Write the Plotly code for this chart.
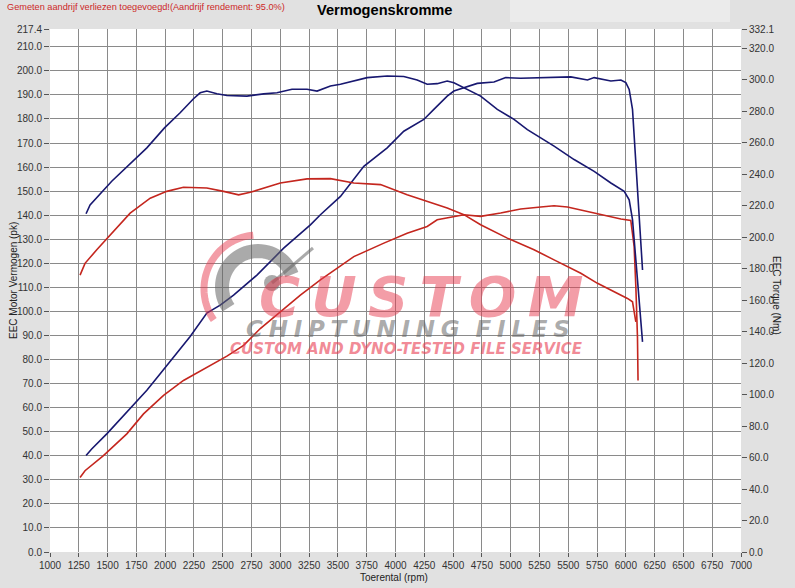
import plotly.graph_objects as go
import numpy as np

# ---------------- data ----------------
rpm_blue_power = [1313, 1362, 1493, 1696, 1841, 1957, 2101, 2217, 2362, 2478, 2594, 2797,
                  3029, 3261, 3348, 3435, 3522, 3725, 3928, 4072, 4246, 4333, 4449, 4507,
                  4623, 4710, 4855, 4957, 5087, 5232, 5377, 5522, 5667, 5725, 5870, 5957,
                  6000, 6029, 6058, 6087, 6116, 6145]
blue_power = [40.1, 42.8, 49.1, 59.5, 67.2, 74.1, 82.5, 89.6, 99.3, 102.6, 106.8, 115.1,
              126.3, 136.0, 140.2, 144.0, 147.8, 160.3, 168.0, 174.9, 179.8, 184.0, 189.5, 191.6,
              193.4, 194.8, 195.4, 197.2, 196.9, 197.2, 197.2, 197.5, 196.2, 197.2, 195.8, 196.2,
              195.1, 192.3, 184.0, 163.1, 142.3, 117.2]

rpm_blue_torque = [1313, 1348, 1536, 1667, 1841, 1994, 2130, 2246, 2304, 2362, 2449, 2536,
                   2710, 2855, 2971, 3101, 3232, 3319, 3435, 3522, 3754, 3928, 4072, 4188,
                   4275, 4362, 4449, 4507, 4594, 4739, 4884, 5029, 5145, 5261, 5377, 5551,
                   5725, 5870, 5986, 6029, 6058, 6087, 6116, 6145]
blue_torque = [214.8, 220.4, 235.4, 244.6, 256.6, 269.3, 278.9, 287.8, 291.6, 292.7, 291.0, 289.9,
               289.5, 290.9, 291.6, 293.8, 293.8, 292.7, 295.9, 297.0, 301.2, 302.3, 301.9, 299.7,
               297.0, 297.4, 299.1, 298.0, 294.8, 289.5, 281.1, 274.7, 268.2, 263.1, 257.7, 249.2,
               241.7, 234.3, 229.0, 223.6, 211.0, 185.5, 159.9, 133.4]

rpm_red_power = [1261, 1304, 1464, 1667, 1812, 1986, 2159, 2362, 2536, 2681, 2826, 3000,
                 3174, 3348, 3638, 3899, 4101, 4275, 4362, 4594, 4739, 4913, 5087, 5261,
                 5377, 5493, 5667, 5841, 5957, 6043, 6072, 6087, 6101, 6106]
red_power = [31.0, 33.8, 40.1, 49.1, 57.4, 65.1, 71.3, 76.9, 81.4, 85.9, 92.9, 99.8,
             106.8, 113.1, 122.8, 128.4, 132.5, 135.3, 138.1, 140.2, 139.5, 140.9, 142.6, 143.4,
             143.9, 143.4, 141.6, 139.5, 138.4, 137.8, 127.0, 110.3, 89.4, 71.3]

rpm_red_torque = [1261, 1304, 1406, 1551, 1696, 1870, 2014, 2159, 2362, 2507, 2638, 2739,
                  2855, 3000, 3232, 3435, 3638, 3870, 4101, 4275, 4449, 4594, 4739, 4971,
                  5203, 5377, 5609, 5754, 5870, 6014, 6058, 6072, 6087]
red_torque = [175.8, 183.3, 191.9, 203.5, 215.2, 224.7, 229.0, 231.6, 231.1, 229.0, 226.8, 228.4,
              231.1, 234.3, 236.9, 237.1, 234.3, 233.3, 226.8, 222.6, 218.4, 214.2, 207.8, 199.3,
              191.9, 185.5, 177.0, 170.6, 166.4, 161.0, 158.9, 151.5, 146.2]

x_ticks = [1000, 1250, 1500, 1750, 2000, 2250, 2500, 2750, 3000, 3250, 3500, 3750, 4000,
           4250, 4500, 4750, 5000, 5250, 5500, 5750, 6000, 6250, 6500, 6750, 7000]
power_ticks = [0, 10, 20, 30, 40, 50, 60, 70, 80, 90, 100, 110, 120, 130, 140, 150, 160,
               170, 180, 190, 200, 210, 217.4]
torque_ticks = [0, 20, 40, 60, 80, 100, 120, 140, 160, 180, 200, 220, 240, 260, 280, 300,
                320, 332.1]

title_text = "Vermogenskromme"
note_text = "Gemeten aandrijf verliezen toegevoegd!(Aandrijf rendement: 95.0%)"
x_title = "Toerental (rpm)"
y_title = "EEC Motor Vermogen (pk)"
y2_title = "EEC Torque (Nm)"

# ---------------- figure ----------------
W, H = 795, 588
ML, MR, MT, MB = 50, 54, 29, 36
PW, PH = W - ML - MR, H - MT - MB

def px(x):
    return (x - ML) / PW

def py(y):
    return (H - MB - y) / PH

BLUE = "rgb(24,24,112)"
RED = "rgb(196,38,30)"
FONT = "Liberation Sans, Arial, sans-serif"

fig = go.Figure()
fig.add_trace(go.Scatter(x=rpm_red_power, y=red_power, mode="lines",
                         line=dict(color=RED, width=1.6), yaxis="y", hoverinfo="skip"))
fig.add_trace(go.Scatter(x=rpm_red_torque, y=red_torque, mode="lines",
                         line=dict(color=RED, width=1.6), yaxis="y2", hoverinfo="skip"))
fig.add_trace(go.Scatter(x=rpm_blue_power, y=blue_power, mode="lines",
                         line=dict(color=BLUE, width=1.6), yaxis="y", hoverinfo="skip"))
fig.add_trace(go.Scatter(x=rpm_blue_torque, y=blue_torque, mode="lines",
                         line=dict(color=BLUE, width=1.6), yaxis="y2", hoverinfo="skip"))

GRID = "#8a8a8a"
TICKF = dict(family=FONT, size=10, color="#333333")

fig.update_layout(
    width=W, height=H,
    margin=dict(l=ML, r=MR, t=MT, b=MB, autoexpand=False),
    paper_bgcolor="#e1e1e1",
    plot_bgcolor="white",
    showlegend=False,
    xaxis=dict(range=[1000, 7000], tickvals=x_ticks, ticktext=[str(v) for v in x_ticks],
               showgrid=True, gridcolor=GRID, gridwidth=1, zeroline=False,
               ticks="outside", ticklen=4, tickcolor="#555", tickfont=TICKF,
               showline=False, automargin=False),
    yaxis=dict(range=[0, 217.4], tickvals=power_ticks,
               ticktext=[f"{v:.1f}" for v in power_ticks],
               showgrid=True, gridcolor=GRID, gridwidth=1, zeroline=False,
               ticks="outside", ticklen=5, tickcolor="#555", tickfont=TICKF, automargin=False),
    yaxis2=dict(range=[0, 332.1], tickvals=torque_ticks,
                ticktext=[f"{v:.1f}" for v in torque_ticks],
                overlaying="y", side="right", showgrid=False, zeroline=False,
                ticks="outside", ticklen=5, tickcolor="#555", tickfont=TICKF, automargin=False),
)

ann = []
ann.append(dict(text=note_text, xref="paper", yref="paper", x=px(5), y=py(7),
                xanchor="left", yanchor="middle", showarrow=False,
                font=dict(family=FONT, size=9.2, color="rgb(205,40,40)")))
ann.append(dict(text="<b>" + title_text + "</b>", xref="paper", yref="paper", x=px(384), y=py(10),
                xanchor="center", yanchor="middle", showarrow=False,
                font=dict(family=FONT, size=14.6, color="black")))
ann.append(dict(text=x_title, xref="paper", yref="paper", x=px(394), y=py(577),
                xanchor="center", yanchor="middle", showarrow=False,
                font=dict(family=FONT, size=10, color="#222")))
ann.append(dict(text=y_title, xref="paper", yref="paper", x=px(13), y=py(281),
                xanchor="center", yanchor="middle", showarrow=False, textangle=-90,
                font=dict(family=FONT, size=10, color="#222")))
ann.append(dict(text=y2_title, xref="paper", yref="paper", x=px(776), y=py(295),
                xanchor="center", yanchor="middle", showarrow=False, textangle=90,
                font=dict(family=FONT, size=10, color="#222")))

# watermark
PINK = "rgba(232,60,80,0.5)"
GREYW = "rgba(100,100,100,0.55)"
WM = "DejaVu Sans, sans-serif"
TS = "\u2009"
QS = "\u2005"
ann.append(dict(text="<b><i>" + TS.join("CUSTOM") + "</i></b>", xref="paper", yref="paper",
                x=px(421), y=py(296), xanchor="center", yanchor="middle", showarrow=False,
                font=dict(family=WM, size=56, color=PINK)))
ann.append(dict(text="<b><i>" + QS.join("CHIPTUNING") + "  " + QS.join("FILES") + "</i></b>",
                xref="paper", yref="paper",
                x=px(408), y=py(329), xanchor="center", yanchor="middle", showarrow=False,
                font=dict(family=WM, size=23, color=GREYW)))
ann.append(dict(text="<b><i>CUSTOM AND DYNO-TESTED FILE SERVICE</i></b>", xref="paper", yref="paper",
                x=px(406), y=py(349), xanchor="center", yanchor="middle", showarrow=False,
                font=dict(family=WM, size=15, color="rgba(232,60,80,0.6)")))
fig.update_layout(annotations=ann)

def arc_path(cx, cy, r, a0, a1, n=40):
    t = np.radians(np.linspace(a0, a1, n))
    xs = cx + r * np.cos(t)
    ys = cy - r * np.sin(t)
    pts = [f"{px(x):.5f},{py(y):.5f}" for x, y in zip(xs, ys)]
    return "M " + " L ".join(pts)

shapes = []
# lighter box top right
shapes.append(dict(type="rect", xref="paper", yref="paper", x0=px(510), x1=px(730),
                   y0=py(0), y1=py(22), fillcolor="#ebebeb", line=dict(width=0), layer="below"))
# gauge
shapes.append(dict(type="path", xref="paper", yref="paper", path=arc_path(258, 289, 54, 95, 215),
                   line=dict(color=PINK, width=7), layer="above"))
shapes.append(dict(type="path", xref="paper", yref="paper", path=arc_path(258, 287, 36, 20, 215),
                   line=dict(color=GREYW, width=14), layer="above"))
shapes.append(dict(type="line", xref="paper", yref="paper", x0=px(272), y0=py(283),
                   x1=px(313), y1=py(248), line=dict(color=GREYW, width=3), layer="above"))
shapes.append(dict(type="circle", xref="paper", yref="paper", x0=px(264), x1=px(280),
                   y0=py(275), y1=py(291), fillcolor=GREYW, line=dict(width=0), layer="above"))
fig.update_layout(shapes=shapes)

fig.write_html("out.html", config={"displayModeBar": False},
               post_script="document.body.style.margin='0px';document.body.style.padding='0px';")
